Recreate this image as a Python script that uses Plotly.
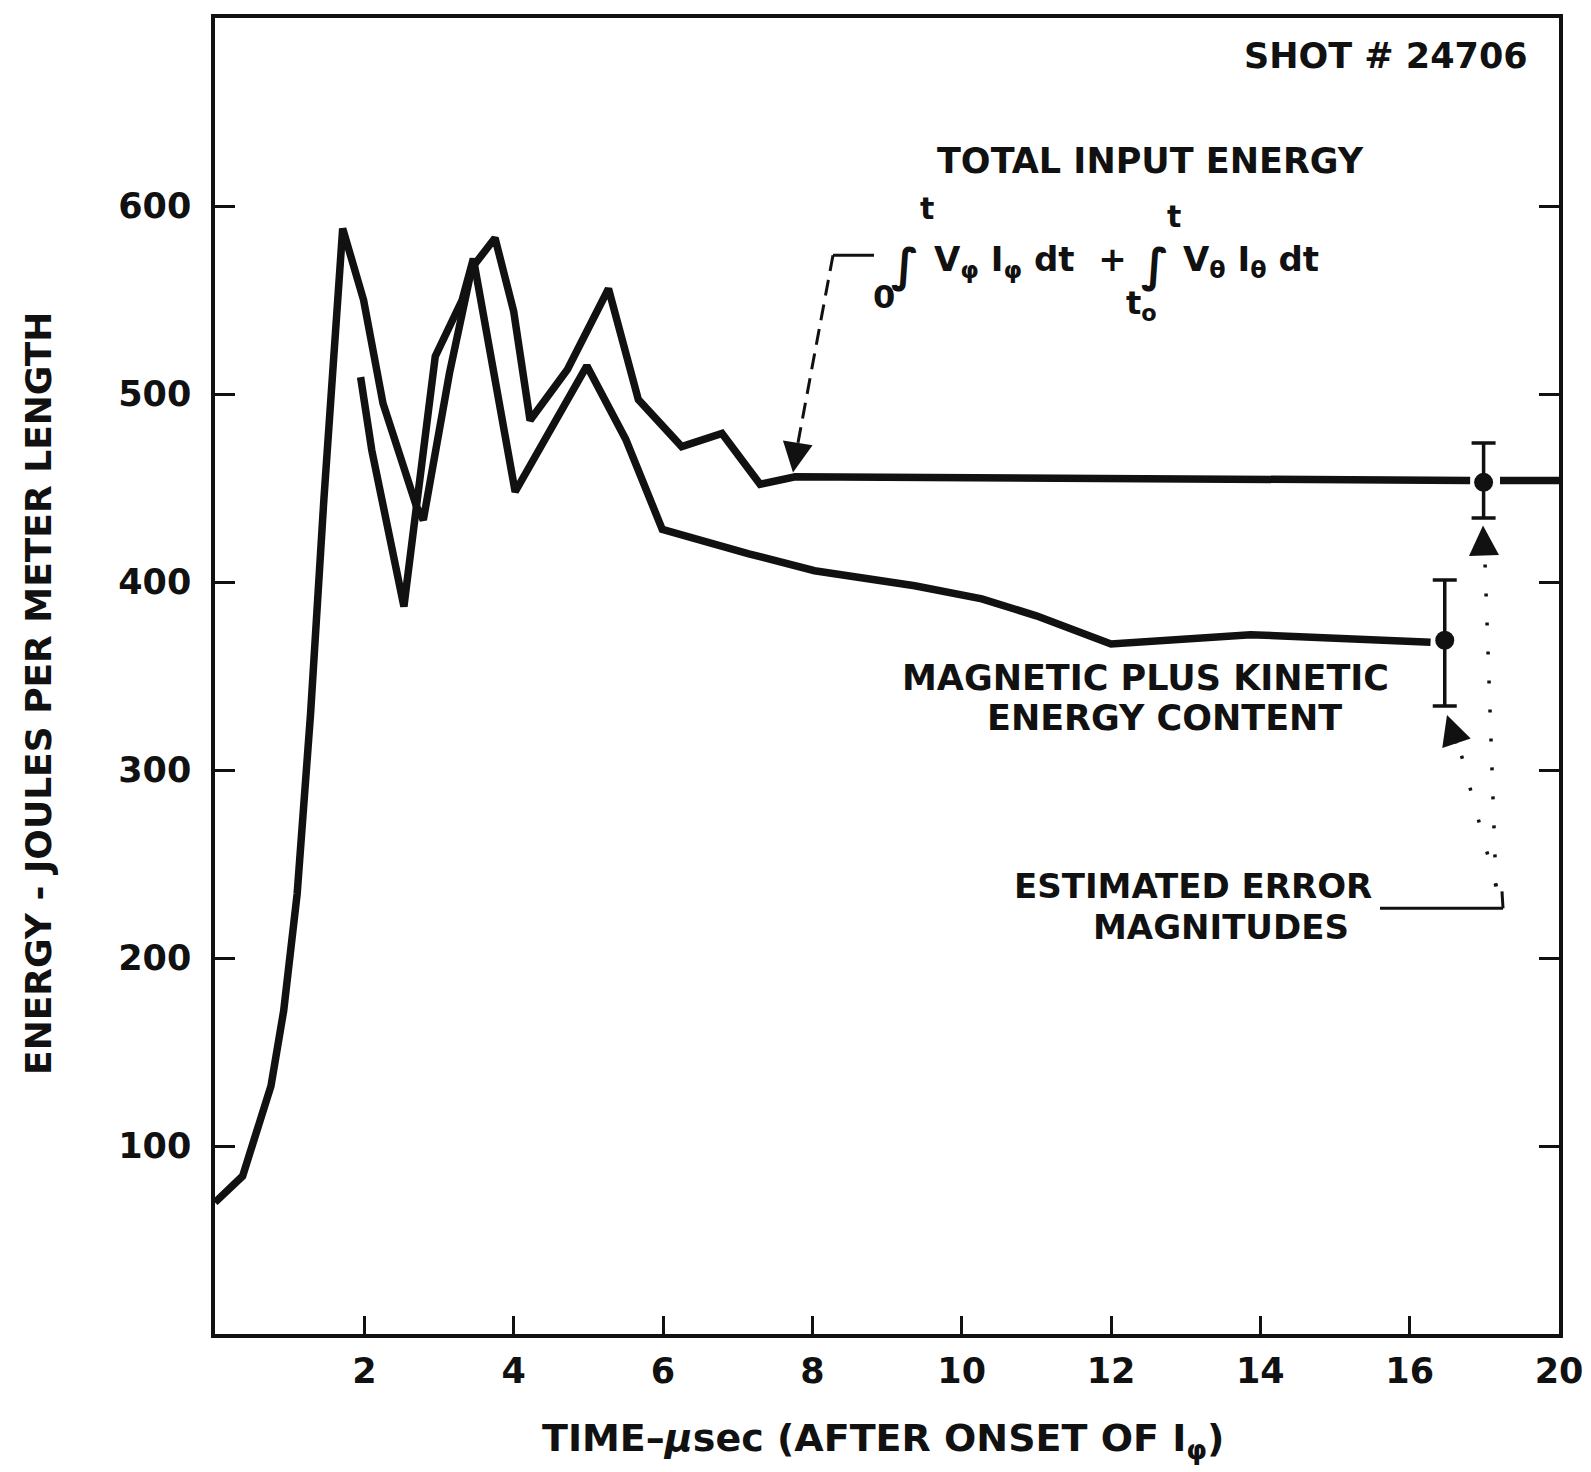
import plotly.graph_objects as go

# ---------------- data ----------------
total_x = [0, 0.37, 0.75, 0.92, 1.1, 1.28, 1.46, 1.71, 1.99, 2.25, 2.7, 2.79,
           3.14, 3.44, 3.75, 4.0, 4.22, 4.72, 5.27, 5.67, 6.25, 6.79, 7.3, 7.77,
           16.81, None, 17.21, 18]
total_y = [70, 84, 132, 172, 234, 330, 445, 588, 550, 495, 440, 433,
           511, 567, 583, 544, 486, 513, 556, 497, 472, 479, 452, 456,
           454, None, 454, 454]

mk_x = [1.95, 2.1, 2.53, 2.95, 3.31, 3.46, 4.02, 4.98, 5.5, 5.99, 7.15, 8.03,
        9.37, 10.27, 11.0, 12.0, 13.87, 16.28]
mk_y = [509, 470, 387, 520, 550, 572, 448, 515, 476, 428, 415, 406,
        398, 391, 382, 367, 372, 368]

err_x = [16.47, 16.99]
err_y = [369, 453]
err_plus = [32, 21]
err_minus = [35, 19]

x_tickvals = [2, 4, 6, 8, 10, 12, 14, 16, 18]
x_ticktext = ["2", "4", "6", "8", "10", "12", "14", "16", "20"]
y_tickvals = [100, 200, 300, 400, 500, 600]
y_ticktext = ["100", "200", "300", "400", "500", "600"]

# ---------------- layout geometry ----------------
PAGE_W, PAGE_H = 1591, 1472
OFF = 8                      # default body margin of the html page
W, H = PAGE_W - OFF, PAGE_H - OFF
L, R, T, B = 215, 1559, 14, 1334   # plot area in page pixels


def px(xp):
    return (xp - L) / (R - L)


def py(yp):
    return (B - yp) / (B - T)


FONT = "DejaVu Sans"
BLACK = "#111111"

fig = go.Figure()

fig.add_trace(go.Scatter(x=total_x, y=total_y, mode="lines",
                         line=dict(color=BLACK, width=7.5), connectgaps=False,
                         hoverinfo="skip", showlegend=False))
fig.add_trace(go.Scatter(x=mk_x, y=mk_y, mode="lines",
                         line=dict(color=BLACK, width=7.5),
                         hoverinfo="skip", showlegend=False))
fig.add_trace(go.Scatter(x=err_x, y=err_y, mode="markers",
                         marker=dict(color=BLACK, size=19),
                         error_y=dict(type="data", symmetric=False,
                                      array=err_plus, arrayminus=err_minus,
                                      color=BLACK, thickness=3.5, width=12),
                         hoverinfo="skip", showlegend=False))

tickfont = dict(family=FONT, size=35, color=BLACK, weight="bold")

fig.update_layout(
    width=W, height=H,
    margin=dict(l=L - OFF, r=PAGE_W - R, t=T - OFF, b=PAGE_H - B, pad=0),
    paper_bgcolor="white", plot_bgcolor="white",
    showlegend=False,
    xaxis=dict(range=[0, 18], tickmode="array", tickvals=x_tickvals,
               ticktext=x_ticktext, ticks="inside", ticklen=18, tickwidth=3,
               tickcolor=BLACK, showline=True, linecolor=BLACK, linewidth=4,
               mirror=True, showgrid=False, zeroline=False,
               tickfont=tickfont, ticklabelstandoff=3),
    yaxis=dict(range=[0, 700], tickmode="array", tickvals=y_tickvals,
               ticktext=y_ticktext, ticks="inside", ticklen=20, tickwidth=3,
               tickcolor=BLACK, showline=True, linecolor=BLACK, linewidth=3.5,
               mirror="ticks", showgrid=False, zeroline=False,
               tickfont=tickfont, ticklabelstandoff=13),
    xaxis2=dict(range=[0, 18], overlaying="x", anchor="y", side="bottom",
                tickmode="array", tickvals=x_tickvals, ticks="outside",
                ticklen=12, tickwidth=3, tickcolor=BLACK,
                showticklabels=False, showline=False, showgrid=False,
                zeroline=False),
    yaxis2=dict(range=[0, 700], overlaying="y", anchor="x", side="left",
                tickmode="array", tickvals=y_tickvals, ticks="outside",
                ticklen=14, tickwidth=3, tickcolor=BLACK,
                showticklabels=False, showline=False, showgrid=False,
                zeroline=False),
)


def label(text, x, y, size=34, xanchor="center", yanchor="middle", angle=0):
    fig.add_annotation(text=text, x=px(x), y=py(y), xref="paper", yref="paper",
                       showarrow=False, xanchor=xanchor, yanchor=yanchor,
                       textangle=angle,
                       font=dict(family=FONT, size=size, color=BLACK,
                                 weight="bold"))


# axis titles
label("ENERGY - JOULES PER METER LENGTH", 39, 692, size=36, angle=-90)
label("TIME–<i>μ</i>sec (AFTER ONSET OF I<sub>φ</sub>)", 883, 1441, size=38)

# text annotations
label("SHOT # 24706", 1386, 52, size=35)
label("TOTAL INPUT ENERGY", 1150, 157, size=35)
label("MAGNETIC PLUS KINETIC", 1145, 676, size=35)
label("ENERGY CONTENT", 1164, 716, size=35)
label("ESTIMATED ERROR", 1193, 885, size=34)
label("MAGNITUDES", 1221, 926, size=34)

# formula
label("0", 884, 294, size=32)
label("∫", 905, 262, size=46)
label("t", 927, 205, size=30)
label("V<sub>φ</sub> I<sub>φ</sub> dt  +", 932, 258, size=34, xanchor="left")
label("t<sub>o</sub>", 1141, 302, size=32)
label("∫", 1155, 262, size=46)
label("t", 1174, 213, size=30)
label("V<sub>θ</sub> I<sub>θ</sub> dt", 1181, 258, size=34, xanchor="left")


# leader lines (pixel positions converted to paper)
def seg(x0, y0, x1, y1, dash="solid", width=3):
    fig.add_shape(type="line", xref="paper", yref="paper",
                  x0=px(x0), y0=py(y0), x1=px(x1), y1=py(y1),
                  line=dict(color=BLACK, width=width, dash=dash))


def head(xt, yt, xs, ys):
    fig.add_annotation(x=px(xt), y=py(yt), xref="paper", yref="paper",
                       ax=xs - xt, ay=ys - yt, axref="pixel", ayref="pixel",
                       text="", showarrow=True, arrowhead=2, arrowsize=2.0,
                       arrowwidth=3, arrowcolor=BLACK)


# total-input-energy pointer
seg(833, 252, 874, 252, width=3)
seg(833, 252, 798, 440, dash="16px,9px", width=3)
head(793, 470, 797, 445)

# estimated error pointers
seg(1380, 907, 1503, 907, width=3)
seg(1503, 907, 1502, 890, width=3)
seg(1496, 885, 1485, 560, dash="3px,26px", width=3.5)
seg(1496, 885, 1460, 748, dash="3px,30px", width=3.5)
head(1483, 523, 1484, 553)
head(1447, 713, 1457, 743)

fig.write_html("out.html")
